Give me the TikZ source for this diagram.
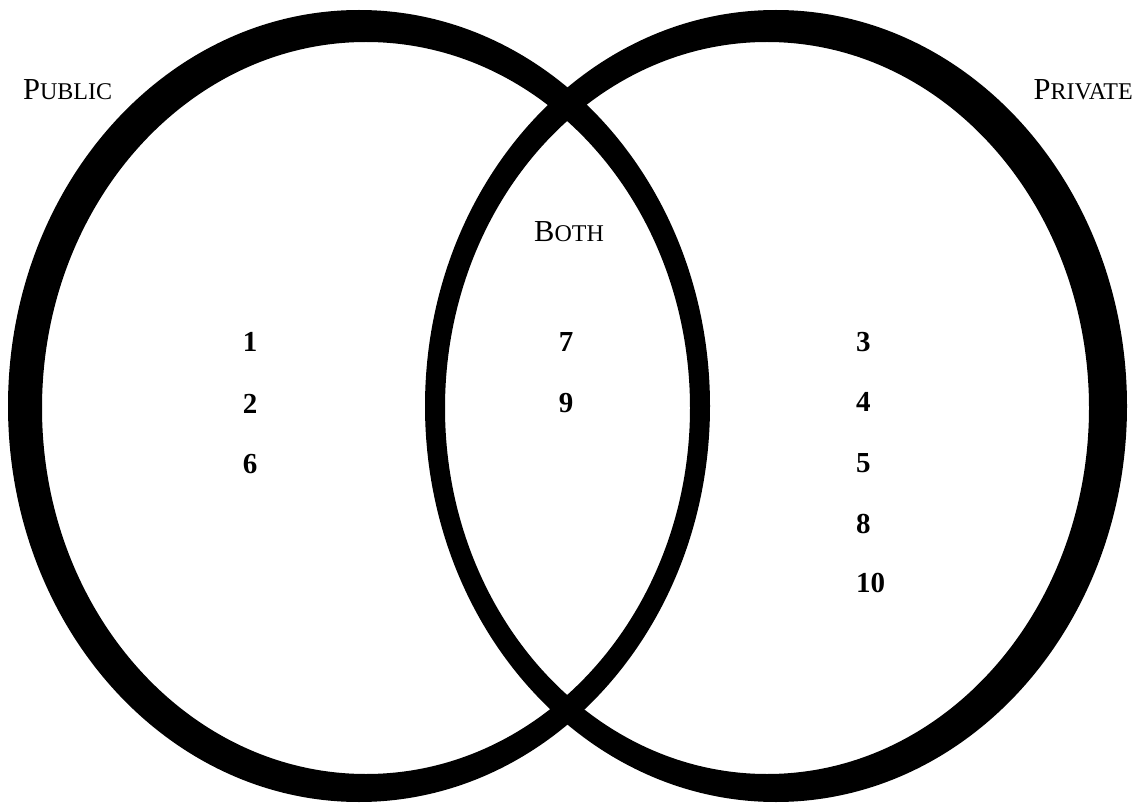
\documentclass[tikz,border=0pt]{standalone}
\usepackage{fontspec}
\setmainfont{Liberation Serif}
\usepackage{tikz}
\usetikzlibrary{positioning}
\newcommand\fakesc[2]{#1{\fontsize{24}{28}\selectfont #2}}

\begin{document}
\begin{tikzpicture}[x=1pt,y=-1pt,
  ring/.style={fill=black,even odd rule},
  setlabel/.style={inner sep=0pt,font=\fontsize{30.5}{34}\selectfont},
  member/.style={inner sep=0pt,font=\fontsize{29}{34}\selectfont\bfseries}]
  \useasboundingbox (0,0) rectangle (1144,805);
  % the two rings, thicker on the outer sides
  \fill[ring] (359,406) ellipse [x radius=351pt,y radius=396pt]
              (366,408) ellipse [x radius=324pt,y radius=366pt];
  \fill[ring] (776,406) ellipse [x radius=351pt,y radius=396pt]
              (767,408) ellipse [x radius=322pt,y radius=366pt];
  % set names
  \node[setlabel,anchor=base west] (public) at (23,100) {\fakesc{P}{UBLIC}};
  \node[setlabel,anchor=base east] (private) at (1133,100) {\fakesc{P}{RIVATE}};
  \node[setlabel,anchor=base] (both) at (569,242) {\fakesc{B}{OTH}};
  % members
  \node[member,anchor=base] (m1) at (250,352) {1};
  \node[member,anchor=base] (m2) at (250,413) {2};
  \node[member,anchor=base] (m6) at (250,473) {6};
  \node[member,anchor=base] (m7) at (566,352) {7};
  \node[member,anchor=base] (m9) at (566,412) {9};
  \node[member,anchor=base west] (m3) at (856,352) {3};
  \node[member,anchor=base west] (m4) at (856,411) {4};
  \node[member,anchor=base west] (m5) at (856,472) {5};
  \node[member,anchor=base west] (m8) at (856,533) {8};
  \node[member,anchor=base west] (m10) at (856,592) {10};
\end{tikzpicture}
\end{document}
